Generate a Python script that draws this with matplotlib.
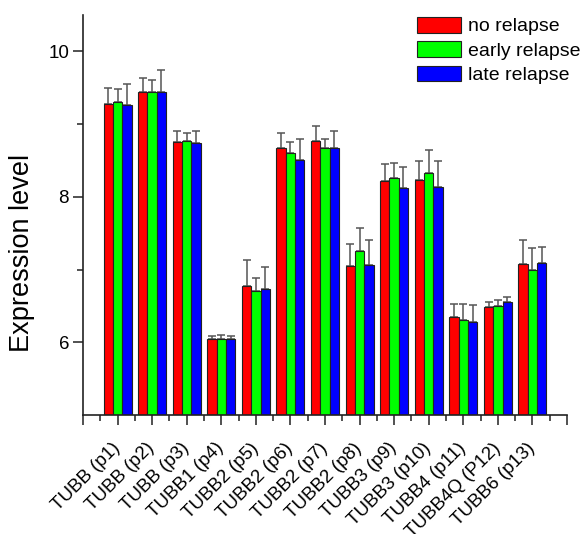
import matplotlib
matplotlib.use("Agg")
import matplotlib.pyplot as plt
from matplotlib.patches import Patch
import numpy as np

plt.rcParams['font.family'] = ['Liberation Sans', 'DejaVu Sans']

genes = ['TUBB (p1)', 'TUBB (p2)', 'TUBB (p3)', 'TUBB1 (p4)', 'TUBB2 (p5)',
         'TUBB2 (p6)', 'TUBB2 (p7)', 'TUBB2 (p8)', 'TUBB3 (p9)', 'TUBB3 (p10)',
         'TUBB4 (p11)', 'TUBB4Q (P12)', 'TUBB6 (p13)']

no_relapse = [9.27, 9.44, 8.75, 6.04, 6.78, 8.67, 8.77, 7.05, 8.22, 8.23, 6.35, 6.48, 7.08]
no_err = [0.22, 0.20, 0.16, 0.05, 0.35, 0.21, 0.21, 0.30, 0.23, 0.26, 0.18, 0.08, 0.32]

early_relapse = [9.31, 9.44, 8.77, 6.05, 6.70, 8.60, 8.67, 7.25, 8.26, 8.33, 6.30, 6.50, 7.00]
early_err = [0.17, 0.16, 0.11, 0.05, 0.19, 0.16, 0.12, 0.32, 0.21, 0.31, 0.22, 0.08, 0.29]

late_relapse = [9.26, 9.44, 8.74, 6.04, 6.73, 8.51, 8.67, 7.06, 8.12, 8.14, 6.28, 6.55, 7.09]
late_err = [0.29, 0.30, 0.17, 0.05, 0.31, 0.28, 0.24, 0.34, 0.29, 0.35, 0.23, 0.07, 0.22]

series = [('no relapse', no_relapse, no_err, '#ff0000'),
          ('early relapse', early_relapse, early_err, '#00ff00'),
          ('late relapse', late_relapse, late_err, '#0000ff')]

base = 5
x = np.arange(len(genes))
width = 0.27

fig = plt.figure(figsize=(5.82, 5.34), dpi=100)
ax = fig.add_axes([83 / 582, 1 - 415 / 534, 484 / 582, 400 / 534])

handles = []
for i, (name, vals, err, col) in enumerate(series):
    pos = x + (i - 1) * width
    h = np.array(vals) - base
    ax.bar(pos, h, width, bottom=base, color=col, edgecolor='#222222',
           linewidth=0.8, zorder=2)
    ax.errorbar(pos, vals, yerr=[np.zeros(len(err)), err], fmt='none',
                ecolor='#555555', elinewidth=1.1, capsize=3, capthick=1.1,
                zorder=1)
    handles.append(Patch(facecolor=col, edgecolor='#222222', linewidth=0.8, label=name))

ax.set_xlim(-1, 13)
ax.set_ylim(5, 10.5)

ax.spines['top'].set_visible(False)
ax.spines['right'].set_visible(False)
for s in ('left', 'bottom'):
    ax.spines[s].set_linewidth(1.2)
    ax.spines[s].set_color('#222222')

ax.set_yticks([6, 8, 10])
ax.set_yticks([7, 9], minor=True)
ax.set_xticks(np.arange(-1, 14))
ax.set_xticklabels([''] + genes + [''], rotation=45, ha='right', va='center',
                   rotation_mode='anchor', fontsize=13.5)
ax.set_xticks(np.arange(-0.5, 13, 1), minor=True)
ax.tick_params(axis='both', which='major', direction='out', length=7,
               width=1.1, color='#222222')
ax.tick_params(axis='both', which='minor', direction='out', length=4,
               width=1.1, color='#222222')
ax.tick_params(axis='y', labelsize=13.5, pad=3)
ax.tick_params(axis='x', pad=15)

ax.set_ylabel('Expression level', fontsize=19.5)
ax.yaxis.set_label_coords(-0.099, 0.406)

fig.legend(handles=handles, loc='upper left',
           bbox_to_anchor=(417 / 582, 1 - 17 / 534), frameon=False,
           fontsize=14, handlelength=2.25, handleheight=0.85,
           handletextpad=0.35, labelspacing=0.3, borderpad=0,
           borderaxespad=0)

fig.savefig('out.png', dpi=100)
